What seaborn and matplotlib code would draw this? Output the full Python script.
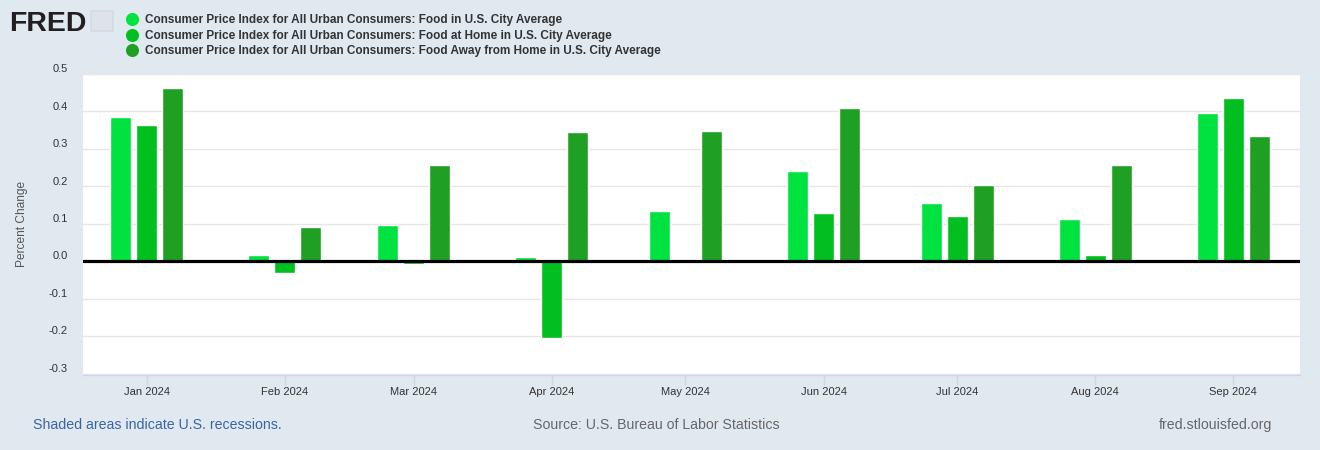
"""
plot.py
    FRED style chart: monthly percent change of CPI food series, 2024
"""

import matplotlib
matplotlib.use('Agg')
import matplotlib.pyplot as plt
import matplotlib.dates as mdates
import matplotlib.transforms as mtransforms
from matplotlib.lines import Line2D
from matplotlib.patches import FancyBboxPatch
import seaborn as sns
import pandas as pd
from datetime import datetime

# Data
months = ['2024-01-01', '2024-02-01', '2024-03-01', '2024-04-01', '2024-05-01',
          '2024-06-01', '2024-07-01', '2024-08-01', '2024-09-01']
food = [0.386, 0.018, 0.098, 0.013, 0.135, 0.242, 0.156, 0.114, 0.397]
food_home = [0.365, -0.032, -0.008, -0.205, -0.005, 0.130, 0.122, 0.018, 0.437]
food_away = [0.463, 0.093, 0.258, 0.346, 0.348, 0.410, 0.205, 0.258, 0.335]
series_names = ['Consumer Price Index for All Urban Consumers: Food in U.S. City Average',
                'Consumer Price Index for All Urban Consumers: Food at Home in U.S. City Average',
                'Consumer Price Index for All Urban Consumers: Food Away from Home in U.S. City Average']
y_ticks = [-0.3, -0.2, -0.1, 0.0, 0.1, 0.2, 0.3, 0.4, 0.5]

# Style
BG = '#e1e9f0'
colors = ['#00e23f', '#00bf1f', '#20a023']
palette = dict(zip(series_names, colors))
FONT = ['Liberation Sans', 'DejaVu Sans']

sns.set_style('white')
plt.rcParams['font.family'] = FONT

# Long table
x_num = mdates.date2num(pd.to_datetime(months))
rows = []
for name, values in zip(series_names, [food, food_home, food_away]):
    for xv, v in zip(x_num, values):
        rows.append({'x': xv, 'value': v, 'series': name})
df = pd.DataFrame(rows)

fig = plt.figure(figsize=(13.2, 4.5), dpi=100, facecolor=BG)
ax = fig.add_axes([83 / 1320, (450 - 374.7) / 450, (1300 - 83) / 1320, (374.7 - 74) / 450])
ax.set_facecolor('white')

sns.barplot(df, x='x', y='value', hue='series', hue_order=series_names, palette=palette,
            native_scale=True, width=0.604, gap=0.19, saturation=1, legend=False,
            errorbar=None, ax=ax, zorder=2)

jan1 = mdates.date2num(datetime(2024, 1, 1))
ax.set_xlim(jan1 - 14.3, jan1 + 259)
ax.set_ylim(-0.302, 0.5)

ax.xaxis.set_major_locator(mdates.MonthLocator())
ax.xaxis.set_major_formatter(mdates.DateFormatter('%b %Y'))
ax.set_yticks(y_ticks)
ax.set_yticklabels([f'{v:.1f}' for v in y_ticks])

ax.grid(axis='y', color='#e6e6e6', lw=1, zorder=0)
ax.grid(axis='x', visible=False)
ax.axhline(0, color='black', lw=2.3, zorder=3)
for side in ['top', 'right', 'left']:
    ax.spines[side].set_visible(False)
ax.spines['bottom'].set_color('#ccd6eb')
ax.spines['bottom'].set_linewidth(1)

ax.tick_params(axis='x', length=7.2, width=1, color='#ccd6eb', pad=1.5,
               labelsize=8, labelcolor='#333333', bottom=True)
ax.tick_params(axis='y', length=0, pad=10.8, labelsize=8, labelcolor='#333333')
offset = mtransforms.ScaledTranslation(0, 4.3 / 72, fig.dpi_scale_trans)
for t in ax.get_yticklabels():
    t.set_transform(t.get_transform() + offset)

ax.set_xlabel('')
ax.set_ylabel('Percent Change', fontsize=8.6, color='#555555', labelpad=15)

# Header: logo + legend
fig.text(9 / 1320, 1 - 31 / 450, 'FRED', fontsize=20.5, fontweight='bold', color='#231f20')
fig.patches.append(FancyBboxPatch((91 / 1320, 1 - 31 / 450), 22 / 1320, 20 / 450,
                                  boxstyle='round,pad=0.0', transform=fig.transFigure,
                                  facecolor='#dde3e8', edgecolor='#c8d0d8', lw=0.6))

handles = [Line2D([], [], marker='o', linestyle='', markersize=8.4, color=c) for c in colors]
fig.legend(handles, series_names, loc='upper left', bbox_to_anchor=(0.0955, 0.968),
           frameon=False, handlelength=1.0, handletextpad=0.6, borderpad=0,
           borderaxespad=0, labelspacing=0.28,
           prop={'weight': 'bold', 'size': 8.5}, labelcolor='#333333')

# Footer
fig.text(33 / 1320, 1 - 425 / 450, 'Shaded areas indicate U.S. recessions.', fontsize=10.2,
         color='#3b63a4', va='center', ha='left')
fig.text(656 / 1320, 1 - 425 / 450, 'Source: U.S. Bureau of Labor Statistics', fontsize=10.2,
         color='#666666', va='center', ha='center')
fig.text(1272 / 1320, 1 - 425 / 450, 'fred.stlouisfed.org', fontsize=10.2,
         color='#666666', va='center', ha='right')

fig.savefig('out.png', dpi=100, facecolor=BG)
